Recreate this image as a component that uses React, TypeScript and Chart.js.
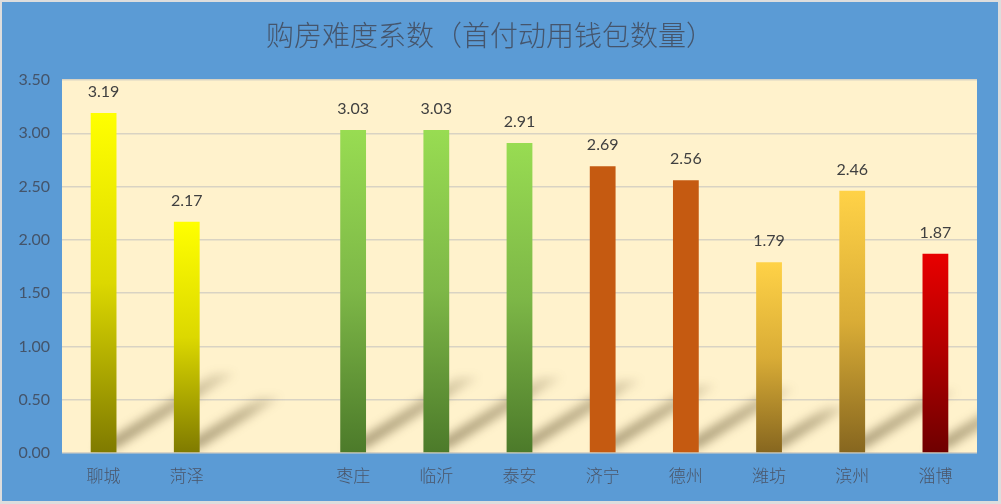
import React, { useEffect, useRef } from "react";
import { Chart, registerables } from "chart.js";

Chart.register(...registerables);

const title = "购房难度系数（首付动用钱包数量）";
const categories = ["聊城", "菏泽", "", "枣庄", "临沂", "泰安", "济宁", "德州", "潍坊", "滨州", "淄博"];
const values: (number | null)[] = [3.19, 2.17, null, 3.03, 3.03, 2.91, 2.69, 2.56, 1.79, 2.46, 1.87];
const yTicks = [0, 0.5, 1, 1.5, 2, 2.5, 3, 3.5];

// colour group per bar: 0 yellow, 1 green, 2 orange, 3 gold, 4 red
const colourGroup = [0, 0, 0, 1, 1, 1, 2, 2, 3, 3, 4];
const palette: [string, string, string][] = [
  ["#FFFF00", "#DCD800", "#7F7A00"],
  ["#98DC52", "#7DB747", "#4C7A2A"],
  ["#C55A11", "#C55A11", "#C55A11"],
  ["#FFD247", "#D9AC36", "#86661F"],
  ["#E80000", "#B00000", "#6E0000"],
];

const bgPlugin = {
  id: "bgPlugin",
  beforeDraw(chart: any) {
    const { ctx, width, height, chartArea } = chart;
    ctx.save();
    ctx.fillStyle = "#DDDDDD";
    ctx.fillRect(0, 0, width, height);
    ctx.fillStyle = "#5B9BD5";
    ctx.fillRect(2, 2, width - 5, height - 5);
    ctx.fillStyle = "#FFF2CC";
    ctx.fillRect(chartArea.left, chartArea.top, chartArea.right - chartArea.left, chartArea.bottom - chartArea.top);
    ctx.font = "300 28px 'Noto Sans CJK SC'";
    ctx.fillStyle = "#45556C";
    ctx.textAlign = "center";
    ctx.textBaseline = "middle";
    ctx.fillText(title, 490, 35);
    ctx.restore();
  },
};

const shadowPlugin = {
  id: "shadowPlugin",
  beforeDatasetsDraw(chart: any) {
    const { ctx, chartArea } = chart;
    const meta = chart.getDatasetMeta(0);
    ctx.save();
    ctx.beginPath();
    ctx.rect(chartArea.left, chartArea.top, chartArea.right - chartArea.left, chartArea.bottom - chartArea.top);
    ctx.clip();
    ctx.filter = "blur(5px)";
    meta.data.forEach((bar: any, i: number) => {
      if (values[i] == null) return;
      const h = bar.base - bar.y;
      const left = bar.x - bar.width / 2;
      const right = bar.x + bar.width / 2;
      const dx = h * 0.35;
      const dy = h * 0.22;
      const base = bar.base - 4;
      const g = ctx.createLinearGradient(0, base, 0, base - dy);
      g.addColorStop(0, "rgba(70,55,20,0.45)");
      g.addColorStop(0.7, "rgba(70,55,20,0.32)");
      g.addColorStop(1, "rgba(70,55,20,0.12)");
      ctx.fillStyle = g;
      ctx.beginPath();
      ctx.moveTo(left + 4, base);
      ctx.lineTo(right, base);
      ctx.lineTo(right + dx, base - dy);
      ctx.lineTo(left + 4 + dx, base - dy);
      ctx.closePath();
      ctx.fill();
    });
    ctx.restore();
  },
};

const labelPlugin = {
  id: "labelPlugin",
  afterDatasetsDraw(chart: any) {
    const { ctx } = chart;
    const meta = chart.getDatasetMeta(0);
    ctx.save();
    ctx.font = "16px Lato";
    ctx.fillStyle = "#404040";
    ctx.textAlign = "center";
    ctx.textBaseline = "middle";
    meta.data.forEach((bar: any, i: number) => {
      const v = values[i];
      if (v == null) return;
      ctx.fillText(v.toFixed(2), bar.x, bar.y - 21);
    });
    ctx.restore();
  },
};

export default function App() {
  const ref = useRef<HTMLCanvasElement>(null);
  useEffect(() => {
    document.body.style.margin = "0";
    const canvas = ref.current!;
    const chart = new Chart(canvas, {
      type: "bar",
      data: {
        labels: categories,
        datasets: [
          {
            data: values as any,
            barPercentage: 0.62,
            categoryPercentage: 0.5,
            backgroundColor: (c: any) => {
              const ch = c.chart;
              if (!ch.chartArea || c.type !== "data") return "#ccc";
              const v = values[c.dataIndex];
              if (v == null) return "rgba(0,0,0,0)";
              const ys = ch.scales.y;
              const top = ys.getPixelForValue(v);
              const bottom = ys.getPixelForValue(0);
              const p = palette[colourGroup[c.dataIndex]];
              const g = ch.ctx.createLinearGradient(0, top, 0, bottom);
              g.addColorStop(0, p[0]);
              g.addColorStop(0.5, p[1]);
              g.addColorStop(1, p[2]);
              return g;
            },
          },
        ],
      },
      options: {
        responsive: false,
        animation: false,
        layout: { padding: { left: 8, right: 24, top: 80, bottom: 11 } },
        plugins: {
          legend: { display: false },
          tooltip: { enabled: false },
          title: { display: false },
        },
        scales: {
          x: {
            grid: { display: false, drawTicks: false },
            border: { display: false },
            ticks: {
              padding: 12,
              color: "#4A5568",
              font: { family: "'Noto Sans CJK SC'", size: 17, weight: 300 as any },
              maxRotation: 0,
              autoSkip: false,
            },
            afterFit: (s: any) => {
              s.height = 40;
            },
          },
          y: {
            min: 0,
            max: 3.5,
            afterBuildTicks: (s: any) => {
              s.ticks = yTicks.map((v) => ({ value: v }));
            },
            grid: { color: "#D9D3C3", lineWidth: 1.5, drawTicks: false },
            border: { display: false },
            ticks: {
              padding: 12,
              color: "#44546A",
              font: { family: "Lato", size: 16 },
              callback: (v: any) => Number(v).toFixed(2),
            },
            afterFit: (s: any) => {
              s.width = 54;
            },
          },
        },
      },
      plugins: [bgPlugin, shadowPlugin, labelPlugin],
    });
    return () => chart.destroy();
  }, []);
  return (
    <div style={{ position: "absolute", left: 0, top: 0, width: 1001, height: 504 }}>
      <canvas ref={ref} width={1001} height={504} />
    </div>
  );
}
